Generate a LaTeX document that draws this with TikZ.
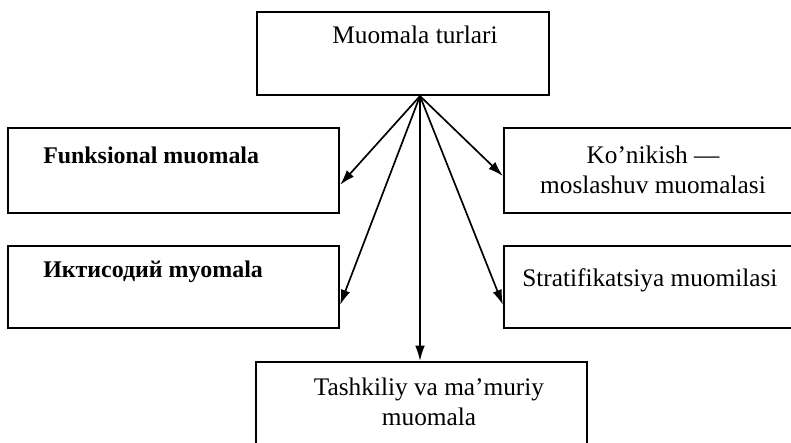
\documentclass[tikz,border=0pt]{standalone}
\usepackage{fontspec}
\setmainfont{Liberation Serif}
\usetikzlibrary{arrows.meta}
\tikzset{
  turbox/.style={draw, line width=1.5pt, inner sep=0pt},
  lbl/.style={font=\fontsize{18}{21.5}\selectfont, inner sep=0pt},
  lblb/.style={font=\fontsize{17}{20}\selectfont\bfseries, inner sep=0pt},
  >={Latex[length=0.38cm,width=0.24cm]}
}
\begin{document}
\begin{tikzpicture}
  \useasboundingbox (0,0) rectangle (19.775,11.05);
  \clip (0,0) rectangle (19.775,11.05);
  % boxes
  \node[turbox, minimum width=7.3cm, minimum height=2.075cm] (turlar) at (10.075,9.7125) {};
  \node[turbox, minimum width=8.275cm, minimum height=2.125cm] (funk) at (4.3375,6.7875) {};
  \node[turbox, minimum width=8.275cm, minimum height=2.05cm] (iqt) at (4.3375,3.875) {};
  \node[turbox, minimum width=8.15cm, minimum height=2.125cm] (konik) at (16.675,6.7875) {};
  \node[turbox, minimum width=8.15cm, minimum height=2.05cm] (strat) at (16.675,3.875) {};
  \node[turbox, minimum width=8.275cm, minimum height=2.95cm] (tashk) at (10.5375,0.525) {};
  % labels
  \node[lbl] (t0) at (10.375,10.175) {Muomala turlari};
  \node[lblb, anchor=west] (t1) at (1.075,7.175) {Funksional muomala};
  \node[lblb, anchor=west] (t2) at (1.075,4.25) {Иктисодий myomala};
  \node[lbl, align=center] (t3) at (16.325,6.8) {Ko’nikish —\\moslashuv muomalasi};
  \node[lbl, anchor=west] (t4) at (13.05,4.05) {Stratifikatsiya muomilasi};
  \node[lbl, align=center] (t5) at (10.725,1.0) {Tashkiliy va ma’muriy\\muomala};
  % arrows
  \coordinate (src) at ([xshift=0.425cm]turlar.south);
  \draw[->, line width=1.2pt] (src) -- ([yshift=-0.36cm]funk.east);
  \draw[->, line width=1.2pt] (src) -- ([yshift=-0.45cm]iqt.east);
  \draw[->, line width=1.2pt] (src) -- ([yshift=-0.14cm]konik.west);
  \draw[->, line width=1.2pt] (src) -- ([yshift=-0.45cm]strat.west);
  \draw[->, line width=1.2pt] (src) -- (src |- tashk.north);
\end{tikzpicture}
\end{document}
